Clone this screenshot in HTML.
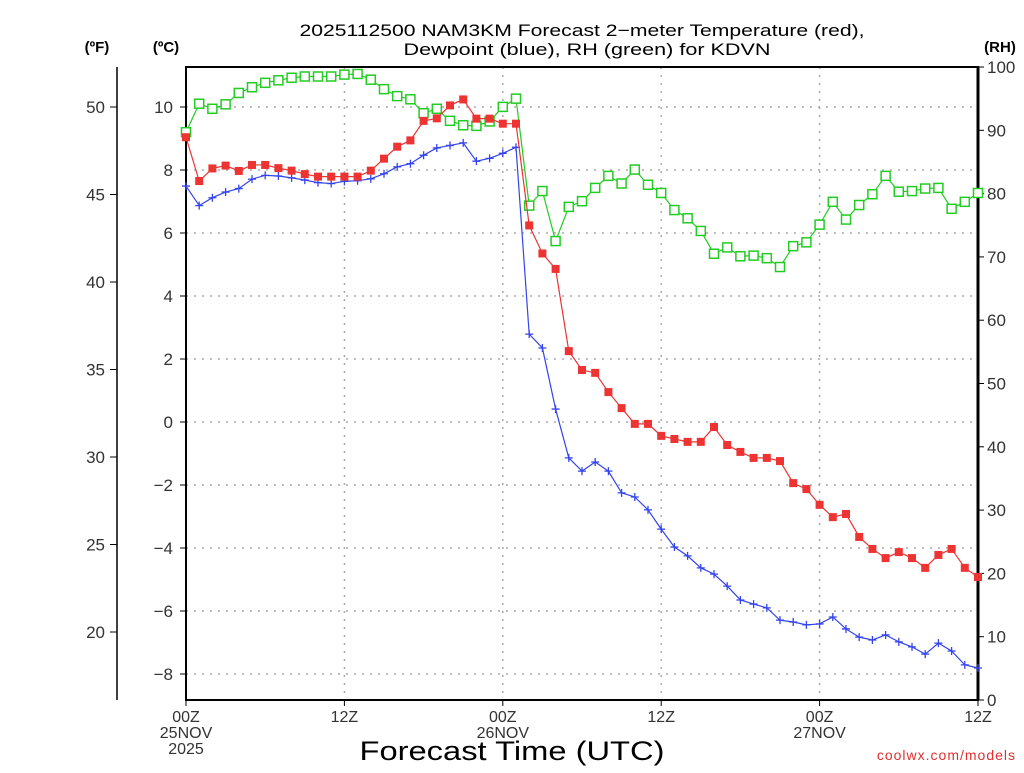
<!DOCTYPE html>
<html><head><meta charset="utf-8"><style>
body{margin:0;background:#fff;}
svg text{font-family:"Liberation Sans","DejaVu Sans",sans-serif;}
</style></head><body>
<svg id="chart" width="1024" height="768" viewBox="0 0 1024 768" xmlns="http://www.w3.org/2000/svg">
<g font-size="17" text-anchor="middle" fill="#000">
<text x="582" y="36" textLength="565" lengthAdjust="spacingAndGlyphs">2025112500 NAM3KM Forecast 2−meter Temperature (red),</text>
<text x="587" y="55" textLength="367" lengthAdjust="spacingAndGlyphs">Dewpoint (blue), RH (green) for KDVN</text>
</g>
<text x="97" y="52" font-size="15" font-weight="bold" text-anchor="middle">(ºF)</text>
<text x="166" y="52" font-size="15" font-weight="bold" text-anchor="middle">(ºC)</text>
<text x="1000" y="52" font-size="15" font-weight="bold" text-anchor="middle">(RH)</text>
<g id="grid"></g>
<g id="axes"></g>
<g id="series"></g>
<text x="512" y="760" font-size="27" text-anchor="middle" textLength="305" lengthAdjust="spacingAndGlyphs">Forecast Time (UTC)</text>
<text x="1016" y="760" font-size="14" fill="#e03030" text-anchor="end" letter-spacing="1">coolwx.com/models</text>
</svg>
<script>
const hours = Array.from({length:61},(_, i)=>i);
const tempC = [9.04,7.65,8.05,8.14,7.97,8.16,8.16,8.06,7.98,7.87,7.79,7.79,7.79,7.79,7.98,8.36,8.74,8.94,9.56,9.64,10.05,10.24,9.63,9.63,9.47,9.47,
6.24,5.35,4.86,2.25,1.65,1.56,0.95,0.44,-0.06,-0.06,-0.44,-0.54,-0.63,-0.63,-0.16,-0.73,-0.95,-1.14,-1.14,-1.24,-1.94,-2.13,-2.63,-3.02,-2.92,-3.65,-4.03,-4.32,-4.13,-4.32,-4.63,-4.22,-4.03,-4.63,-4.92];
const dewC = [7.49,6.87,7.12,7.30,7.41,7.71,7.83,7.81,7.75,7.68,7.60,7.57,7.64,7.66,7.72,7.88,8.10,8.20,8.47,8.70,8.78,8.86,8.28,8.37,8.53,8.72,
2.79,2.35,0.41,-1.14,-1.56,-1.27,-1.56,-2.25,-2.38,-2.79,-3.40,-3.97,-4.25,-4.63,-4.83,-5.21,-5.65,-5.78,-5.90,-6.29,-6.35,-6.44,-6.41,-6.19,-6.57,-6.83,-6.92,-6.76,-6.98,-7.14,-7.37,-7.02,-7.27,-7.71,-7.81];
const rh = [89.7,94.2,93.4,94.1,95.9,96.8,97.5,97.9,98.3,98.5,98.5,98.5,98.8,98.9,98.0,96.5,95.4,94.9,92.7,93.4,91.5,90.8,90.7,91.4,93.7,95.0,
78.1,80.4,72.5,77.9,78.8,80.9,82.8,81.6,83.8,81.4,80.1,77.4,76.1,74.1,70.5,71.5,70.1,70.2,69.8,68.4,71.7,72.3,75.1,78.7,75.9,78.2,79.9,82.8,80.3,80.4,80.8,80.9,77.6,78.7,80.1];
const cTicks = [10,8,6,4,2,0,-2,-4,-6,-8];
const fTicks = [50,45,40,35,30,25,20];
const rhTicks = [0,10,20,30,40,50,60,70,80,90,100];
const xTickHours = [0,12,24,36,48,60];
const xTickLabels = [["00Z","25NOV","2025"],["12Z"],["00Z","26NOV"],["12Z"],["00Z","27NOV"],["12Z"]];

const L=186,R=978,T=67,B=700;
const xs=h=>L+(R-L)*h/60;
const yC=c=>422-31.5*c;
const yF=f=>yC((f-32)*5/9);
const yRH=r=>B-(B-T)*r/100;
const NS="http://www.w3.org/2000/svg";
function mk(tag,attrs,parent){const e=document.createElementNS(NS,tag);for(const k in attrs)e.setAttribute(k,attrs[k]);parent.appendChild(e);return e;}
const grid=document.getElementById('grid'),axes=document.getElementById('axes'),ser=document.getElementById('series');

cTicks.forEach(c=>{
  const y=yC(c);
  const g=mk('line',{x1:L,x2:R,y1:y,y2:y,stroke:'#aaa','stroke-width':1.5,'stroke-dasharray':'2,6'},grid);
  
  
  mk('line',{x1:L-6,x2:L,y1:y,y2:y,stroke:'#000'},axes);
  const t=mk('text',{x:L-13,y:y+6,'font-size':17,'text-anchor':'end',fill:'#333'},axes);
  t.textContent=(c<0?'−':'')+Math.abs(c);
  
  
});
xTickHours.slice(1,5).forEach(h=>{
  const g=mk('line',{x1:xs(h),x2:xs(h),y1:T,y2:B,stroke:'#aaa','stroke-width':1.5,'stroke-dasharray':'2,6'},grid);
  
  
});
fTicks.forEach(f=>{
  const y=yF(f);
  mk('line',{x1:110,x2:117,y1:y,y2:y,stroke:'#000'},axes);
  const t=mk('text',{x:105,y:y+6,'font-size':17,'text-anchor':'end',fill:'#333'},axes);
  t.textContent=f;
  
  
});
mk('line',{x1:117,x2:117,y1:T,y2:B,stroke:'#000','stroke-width':1.5},axes);
rhTicks.forEach(r=>{
  const y=yRH(r);
  mk('line',{x1:R,x2:R+6,y1:y,y2:y,stroke:'#000'},axes);
  const t=mk('text',{x:R+9,y:y+6,'font-size':17,fill:'#333'},axes);
  t.textContent=r;
  
  
});
xTickHours.forEach((h,i)=>{
  const x=xs(h);
  mk('line',{x1:x,x2:x,y1:B,y2:B+6,stroke:'#000'},axes);
  xTickLabels[i].forEach((s,j)=>{
    const t=mk('text',{x:x,y:722+j*16,'font-size':16,'text-anchor':'middle',fill:'#333'},axes);
    t.textContent=s;
    
    
  });
});
mk('rect',{x:L,y:T,width:R-L,height:B-T,fill:'none',stroke:'#000','stroke-width':2},axes);
mk('line',{x1:R,x2:R,y1:T,y2:B,stroke:'#000','stroke-width':3},axes);

function series(vals,yf,color,name,marker){
  const pts=hours.map(h=>xs(h)+','+yf(vals[h])).join(' ');
  const pl=mk('polyline',{points:pts,fill:'none',stroke:color,'stroke-width':1.2},ser);
  
  
  hours.forEach(h=>{
    const x=xs(h),y=yf(vals[h]);let m;
    if(marker==='fill'){m=mk('rect',{x:x-4,y:y-4,width:8,height:8,fill:color},ser);}
    else if(marker==='open'){m=mk('rect',{x:x-4.5,y:y-4.5,width:9,height:9,fill:'#fff',stroke:color,'stroke-width':1.5},ser);}
    else{m=mk('path',{d:`M${x-4} ${y}H${x+4}M${x} ${y-4}V${y+4}`,stroke:color,'stroke-width':1.3},ser);}
    
    
  });
}
series(rh,yRH,'#22cc22','rh','open');
series(dewC,yC,'#3344ee','dewpoint','plus');
series(tempC,yC,'#ee3333','temperature','fill');
</script>
</body></html>
